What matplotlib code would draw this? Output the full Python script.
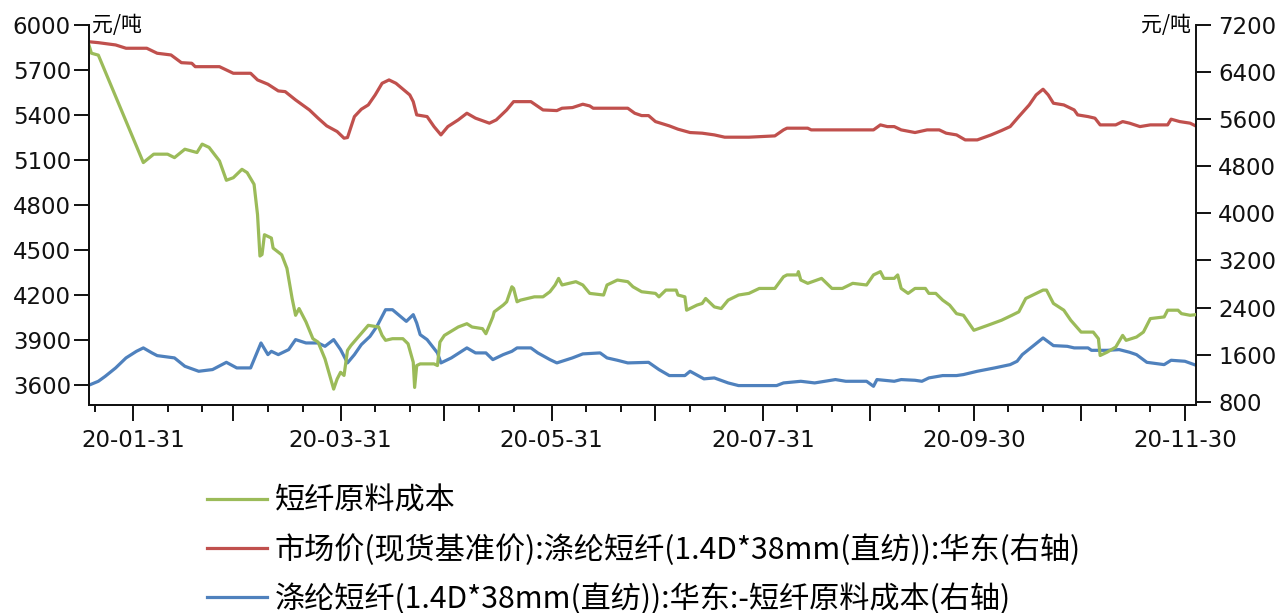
import matplotlib
matplotlib.use('Agg')
import matplotlib.pyplot as plt
import matplotlib.dates as mdates
from matplotlib.ticker import FixedLocator, FixedFormatter
import pandas as pd

# days counted from 2020-01-01
green_days = [17, 18, 20, 33, 36, 40, 42, 45, 48.5, 50, 52, 55, 57, 59, 61.5, 63, 65, 66, 66.7, 67.3,
              68, 70, 70.5, 73, 74.5, 76, 77, 78, 80, 82, 83.5, 85.5, 88, 89, 90, 91, 92, 93, 96,
              98, 101, 102, 103, 105, 108, 109.5, 111, 111.4, 112, 113, 117, 118, 118.7, 120, 124,
              126.5, 128, 131, 132, 134, 134.4, 137, 138, 139.5, 140, 141, 142, 146, 148.5, 150.5,
              152, 153, 153.5, 154, 158, 160, 162, 166, 167, 170, 173, 174.5, 177, 181, 182, 184,
              187, 187.5, 189.5, 190, 193, 194.5, 195.5, 198, 200, 202, 205, 208, 211, 215.5, 218,
              219, 222, 222.3, 223, 225, 229, 232, 235, 238, 242, 244, 246, 247, 250, 251, 252,
              254, 256, 259, 260, 262, 264, 266, 268, 270, 273, 277, 281, 284, 286, 288, 291, 293,
              294, 296, 299, 301, 304, 307.5, 309, 309.5, 311.5, 314, 316, 317, 320, 322, 324, 328,
              329, 332, 333, 335.5, 337.5]
green_vals = [5888, 5812, 5799, 5083, 5139, 5139, 5116, 5172, 5150, 5206, 5184, 5094, 4965, 4982, 5038,
              5016, 4938, 4736, 4460, 4470, 4602, 4580, 4513, 4468, 4378, 4177, 4065, 4110, 4021, 3909,
              3886, 3774, 3573, 3640, 3685, 3664, 3831, 3864, 3945, 3998, 3987, 3931, 3898, 3909, 3909,
              3875, 3752, 3584, 3730, 3741, 3741, 3730, 3886, 3931, 3987, 4009, 3987, 3976, 3942, 4054,
              4088, 4133, 4155, 4255, 4244, 4155, 4166, 4188, 4188, 4222, 4267, 4311, 4289, 4267, 4289,
              4267, 4211, 4200, 4267, 4300, 4289, 4255, 4222, 4211, 4188, 4233, 4233, 4200, 4188, 4099,
              4133, 4144, 4177, 4121, 4110, 4166, 4200, 4211, 4244, 4244, 4322, 4334, 4334, 4356, 4300,
              4278, 4311, 4244, 4244, 4278, 4267, 4334, 4356, 4311, 4311, 4334, 4244, 4211, 4244, 4244,
              4211, 4211, 4166, 4133, 4076, 4065, 3965, 3998, 4032, 4065, 4088, 4177, 4211, 4233, 4233,
              4144, 4099, 4032, 3953, 3953, 3909, 3797, 3819, 3853, 3931, 3898, 3920, 3953, 4043, 4054,
              4099, 4099, 4076, 4065, 4070]

red_days = [17, 20, 25, 28, 34, 37, 41, 44, 47, 48, 55, 59, 64, 66, 69, 72, 74, 77, 81, 83.5, 86, 89,
            91, 92, 94, 96, 98, 100, 102, 104, 106, 110, 111, 112, 115, 117, 119, 121, 124, 126.5,
            129, 133, 135, 138, 140, 145, 148.5, 152.5, 154, 157, 160, 162, 163, 173, 175, 177, 179,
            181, 185, 187.5, 191, 194.5, 198, 201, 208, 215.5, 218, 219, 225, 226, 244, 246, 248,
            250, 252, 256, 259.5, 263, 265, 268, 270.5, 274, 278, 281, 283.5, 286, 289, 291, 293,
            294.5, 296, 299, 302, 303, 306, 308, 309.5, 314, 316, 318, 321, 324, 329, 330, 332.5,
            335.5, 337.5]
red_vals = [6917, 6900, 6861, 6805, 6805, 6720, 6691, 6560, 6550, 6492, 6492, 6380, 6380, 6267, 6194,
            6080, 6068, 5927, 5757, 5617, 5486, 5390, 5277, 5288, 5644, 5769, 5842, 6012, 6210, 6267,
            6210, 6012, 5898, 5673, 5644, 5474, 5333, 5474, 5588, 5701, 5617, 5532, 5588, 5757, 5898,
            5898, 5757, 5746, 5786, 5797, 5854, 5825, 5786, 5786, 5701, 5661, 5661, 5559, 5486, 5430,
            5373, 5362, 5333, 5294, 5294, 5316, 5418, 5447, 5447, 5418, 5418, 5503, 5474, 5474, 5418,
            5373, 5418, 5418, 5362, 5333, 5248, 5248, 5333, 5407, 5474, 5644, 5842, 6012, 6109, 6012,
            5871, 5842, 5757, 5673, 5644, 5617, 5503, 5503, 5559, 5532, 5474, 5503, 5503, 5600, 5559,
            5532, 5474]

blue_days = [17, 20, 22, 25, 28, 31, 33, 35.5, 37, 42, 45, 49, 53, 57, 60, 64, 67, 69, 70, 72, 75, 77,
             80, 83.5, 85.5, 88, 90, 92, 94, 96, 98.5, 100.5, 103, 105, 109, 111, 112, 113, 115, 118,
             119, 122, 126.5, 129, 132, 134, 137, 139.5, 141, 145, 147, 150.5, 152.5, 157, 160, 165,
             167, 170, 173, 179, 182, 185, 189.5, 191, 195, 198, 202, 205, 216, 218, 223, 227, 233,
             236, 242, 244, 245, 250, 252, 256, 258, 260, 264, 268, 270, 274, 279, 283.5, 285.5, 287,
             290, 293, 296, 300, 302, 306, 307, 311.5, 315, 318, 320, 323, 328, 330, 334, 337.5]
blue_vals = [1074, 1147, 1232, 1374, 1544, 1656, 1714, 1629, 1583, 1544, 1402, 1317, 1346, 1469, 1374,
             1374, 1798, 1600, 1656, 1600, 1685, 1855, 1798, 1798, 1741, 1855, 1685, 1459, 1600, 1770,
             1910, 2080, 2363, 2363, 2165, 2279, 2137, 1939, 1855, 1629, 1459, 1544, 1714, 1629, 1629,
             1515, 1600, 1656, 1714, 1714, 1629, 1515, 1459, 1544, 1612, 1629, 1544, 1504, 1459, 1469,
             1346, 1244, 1244, 1317, 1188, 1204, 1119, 1074, 1074, 1119, 1147, 1119, 1176, 1147, 1147,
             1062, 1176, 1147, 1176, 1164, 1147, 1204, 1244, 1244, 1261, 1317, 1374, 1430, 1487, 1600,
             1741, 1883, 1753, 1741, 1714, 1714, 1673, 1673, 1685, 1640, 1600, 1469, 1430, 1504, 1487,
             1413]

labels = ['短纤原料成本',
          '市场价(现货基准价):涤纶短纤(1.4D*38mm(直纺)):华东(右轴)',
          '涤纶短纤(1.4D*38mm(直纺)):华东:-短纤原料成本(右轴)']
colors = ['#9BBB59', '#C0504D', '#4F81BD']
left_ticks = [3600, 3900, 4200, 4500, 4800, 5100, 5400, 5700, 6000]
right_ticks = [800, 1600, 2400, 3200, 4000, 4800, 5600, 6400, 7200]

cjk = ['Noto Sans CJK SC', 'DejaVu Sans']
base = pd.Timestamp('2020-01-01')


def to_dates(days):
    return (base + pd.to_timedelta(days, unit='D')).to_pydatetime()


fig = plt.figure(figsize=(12.82, 6.13), dpi=100)
ax = fig.add_axes([89 / 1282, 1 - 405 / 613, (1196 - 89) / 1282, 380 / 613])
ax2 = ax.twinx()

l_red, = ax2.plot(to_dates(red_days), red_vals, color=colors[1], lw=2.3)
l_blue, = ax2.plot(to_dates(blue_days), blue_vals, color=colors[2], lw=2.3)
l_green, = ax.plot(to_dates(green_days), green_vals, color=colors[0], lw=2.3)

# green on top of the right axis lines
ax.set_zorder(ax2.get_zorder() + 1)
ax.patch.set_visible(False)

ax.set_ylim(3467, 6000)
ax2.set_ylim(744, 7200)
ax.set_yticks(left_ticks)
ax2.set_yticks(right_ticks)
ax.set_xlim(to_dates([17.3, 337.2]))

# month ends as major ticks, every second one labelled
month_ends = [pd.Timestamp(2020, m, 1) + pd.offsets.MonthEnd(0) for m in range(1, 12)]
major = [mdates.date2num(d.to_pydatetime()) for d in month_ends]
major_lab = [d.strftime('%y-%m-%d') if i % 2 == 0 else '' for i, d in enumerate(month_ends)]
minor = [mdates.date2num(pd.Timestamp(2020, m, d).to_pydatetime()) for m in range(1, 12) for d in (10, 20)]
ax.xaxis.set_major_locator(FixedLocator(major))
ax.xaxis.set_major_formatter(FixedFormatter(major_lab))
ax.xaxis.set_minor_locator(FixedLocator(minor))

for a in (ax, ax2):
    a.spines['top'].set_visible(False)
    for s in a.spines.values():
        s.set_linewidth(1.4)
        s.set_color('#111111')
ax.spines['right'].set_visible(False)

ax.tick_params(axis='y', length=11, width=1.4, pad=2, labelsize=16.5, colors='#111111')
ax2.tick_params(axis='y', length=11, width=1.4, pad=5, labelsize=16.5, colors='#111111')
ax.tick_params(axis='x', which='major', length=11.5, width=1.4, pad=6, labelsize=16.5, colors='#111111')
ax.tick_params(axis='x', which='minor', length=5, width=1.4, colors='#111111')

fig.text(92 / 1282, 1 - 25 / 613, '元/吨', family=cjk, fontsize=15, ha='left', va='center')
fig.text(1191 / 1282, 1 - 25 / 613, '元/吨', family=cjk, fontsize=15, ha='right', va='center')

fig.legend([l_green, l_red, l_blue], labels, loc='upper left',
           bbox_to_anchor=(207 / 1282, 1 - 486 / 613), frameon=False,
           prop={'family': cjk, 'size': 21.7}, handlelength=2.0, handletextpad=0.25,
           labelspacing=0.57, borderpad=0, borderaxespad=0)

fig.savefig('out.png', dpi=100)
